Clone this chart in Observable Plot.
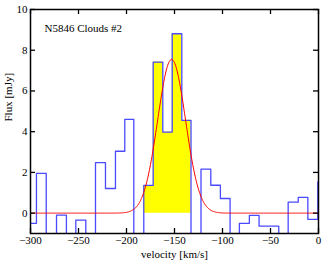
<!DOCTYPE html>
<html>
<head>
<meta charset="utf-8">
<script src="https://cdn.jsdelivr.net/npm/d3@7"></script>
<script src="https://cdn.jsdelivr.net/npm/@observablehq/plot@0.6"></script>
<style>
  html, body { margin: 0; padding: 0; background: #fff; }
  #chart svg { display: block; }
</style>
</head>
<body>
<div id="chart"></div>
<script>
// Channel left edges (km/s) and flux (mJy)
const binEdges = [-303.9, -293.8, -283.6, -272.9, -262.6, -252.8, -242.4, -232.3, -221.9, -211.5,
                  -201.8, -192.4, -182.0, -172.2, -162.2, -152.4, -142.4, -132.8, -122.4, -112.2,
                  -102.2, -92.1, -82.4, -72.0, -61.9, -51.5, -41.4, -31.6, -21.1, -11.1, -0.7, 9.4];
const fluxValues = [-0.5, 1.95, -1.5, -0.1, -1.5, -0.34, -1.5, 2.48, 1.21, 3.04,
                    4.6, -1.5, 1.36, 7.42, 3.98, 8.81, 4.56, -1.5, 2.16, 1.37,
                    0.72, -1.5, -0.5, -0.11, -0.64, -0.64, -1.5, 0.54, 0.77, -0.31, 1.53];
// Channels covered by the yellow (emission) fill
const fillFrom = -182.0, fillTo = -132.8;
// Gaussian fit parameters
const fitAmplitude = 7.55, fitCenter = -153, fitSigma = 14.5;
const xTicks = [-300, -250, -200, -150, -100, -50, 0];
const yTicks = [0, 2, 4, 6, 8, 10];
const titleText = "N5846 Clouds #2";
const xLabel = "velocity [km/s]";
const yLabel = "Flux [mJy]";

const W = 327, H = 263;
const mL = 30, mR = 9, mT = 9, mB = 30;
const pw = W - mL - mR, ph = H - mT - mB;

const steps = fluxValues.map((v, i) => ({x: binEdges[i], y: v}));
steps.push({x: binEdges[fluxValues.length], y: fluxValues[fluxValues.length - 1]});
const fillSteps = steps.filter(d => d.x >= fillFrom - 0.01 && d.x <= fillTo + 0.01);

const fit = d3.range(-300, 0.5, 0.5).map(x => ({x, y: fitAmplitude * Math.exp(-((x - fitCenter) ** 2) / (2 * fitSigma ** 2))}));

const font = "'Liberation Serif', 'DejaVu Serif', serif";
const fmt = d3.format("");

const plot = Plot.plot({
  width: W, height: H,
  marginLeft: mL, marginRight: mR, marginTop: mT, marginBottom: mB,
  style: {fontFamily: font, fontSize: "11px", color: "black", background: "white"},
  x: {domain: [-300, 0]},
  y: {domain: [-1, 10]},
  marks: [
    Plot.areaY(fillSteps, {x: "x", y1: 0, y2: "y", curve: "step-after", fill: "#ffff00"}),
    Plot.line(steps, {x: "x", y: "y", curve: "step-after", stroke: "#4a4aff", strokeWidth: 1.3, clip: true}),
    Plot.line(fit, {x: "x", y: "y", stroke: "#ff0000", strokeWidth: 1, clip: true}),
    Plot.tickX(xTicks, {x: d => d, insetTop: ph - 5, stroke: "black", strokeWidth: 1.3}),
    Plot.tickX(xTicks, {x: d => d, insetBottom: ph - 5, stroke: "black", strokeWidth: 1.3}),
    Plot.tickY(yTicks, {y: d => d, insetRight: pw - 5, stroke: "black", strokeWidth: 1.3}),
    Plot.tickY(yTicks, {y: d => d, insetLeft: pw - 5, stroke: "black", strokeWidth: 1.3}),
    Plot.axisX({ticks: xTicks, tickSize: 0, tickPadding: 3, tickFormat: fmt, fontSize: 11, label: null}),
    Plot.axisY({ticks: yTicks, tickSize: 0, tickPadding: 3, tickFormat: fmt, fontSize: 11, label: null}),
    Plot.text([xLabel], {text: d => d, frameAnchor: "bottom", lineAnchor: "middle", dx: 0, dy: 21, fontSize: 11, fill: "black"}),
    Plot.text([yLabel], {text: d => d, frameAnchor: "left", rotate: -90, lineAnchor: "middle", dx: -22, fontSize: 11, fill: "black"}),
    Plot.text([titleText], {text: d => d, frameAnchor: "top-left", textAnchor: "start", lineAnchor: "middle",
                            dx: 14, dy: 19, fontSize: 11, fill: "black"}),
    Plot.frame({stroke: "black", strokeWidth: 1.5})
  ]
});
document.getElementById("chart").appendChild(plot);
</script>
</body>
</html>
